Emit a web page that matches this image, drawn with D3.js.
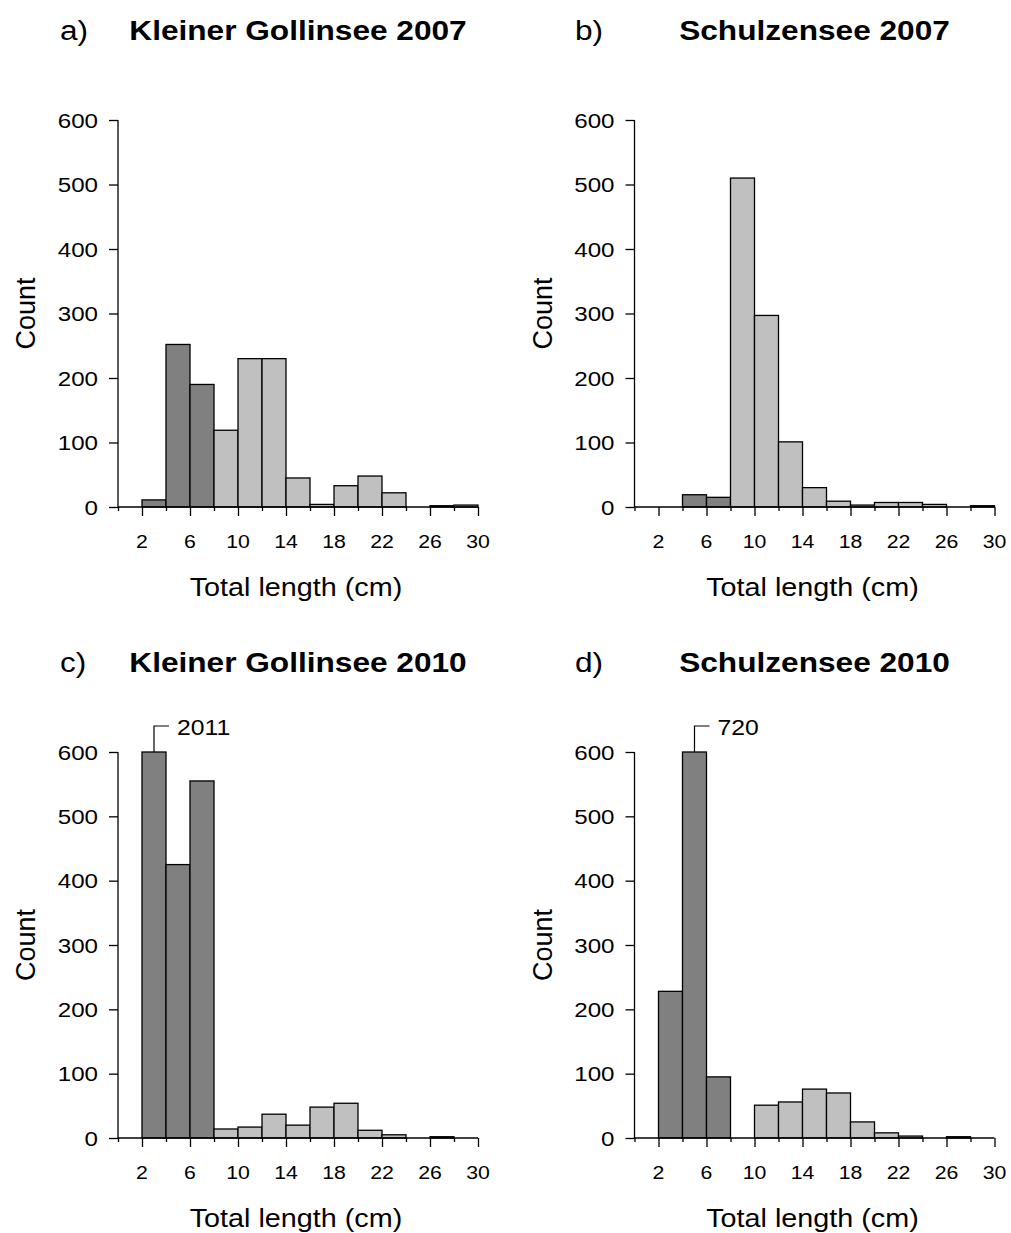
<!DOCTYPE html>
<html><head><meta charset="utf-8">
<script src="https://cdn.jsdelivr.net/npm/d3@7"></script>
<style>body{margin:0;background:#fff}svg{display:block}text{font-family:"Liberation Sans",Arial,sans-serif;fill:#000}</style>
</head><body>
<script>
// Length bins (lower edge, cm); each bin is 2 cm wide
const binStarts = [0, 2, 4, 6, 8, 10, 12, 14, 16, 18, 20, 22, 24, 26, 28];
const kleinerGollinsee2007 = [0, 11, 252, 190, 119, 230, 230, 45, 4, 33, 48, 22, 0, 2, 3];
const schulzensee2007      = [0, 0, 19, 15, 510, 297, 101, 30, 9, 3, 7, 7, 4, 0, 2];
const kleinerGollinsee2010 = [0, 2011, 425, 555, 14, 17, 37, 20, 48, 54, 12, 5, 0, 2, 0];
const schulzensee2010      = [0, 228, 720, 95, 0, 51, 56, 76, 70, 25, 8, 3, 0, 2, 0];
const youngOfYearMaxLength = 8; // bins below this length drawn dark
const xTickLabels = [2, 6, 10, 14, 18, 22, 26, 30];
const yTickLabels = [0, 100, 200, 300, 400, 500, 600];
const panelLetters = ["a)", "b)", "c)", "d)"];
const panelTitles = ["Kleiner Gollinsee 2007", "Schulzensee 2007", "Kleiner Gollinsee 2010", "Schulzensee 2010"];
const yMax = 600;
const xAxisTitle = "Total length (cm)";
const yAxisTitle = "Count";

const W = 1011, H = 1233, SX = 1.15;
const svg = d3.select("body").append("svg").attr("width", W).attr("height", H);

function stext(g, x, y, str, size, anchor, weight) {
  const t = g.append("g").attr("transform", `translate(${x},${y}) scale(${SX},1)`)
    .append("text").attr("x", 0).attr("y", 0).attr("font-size", size)
    .attr("text-anchor", anchor || "start").text(str);
  if (weight) t.attr("font-weight", weight);
  return t;
}

const series = [kleinerGollinsee2007, schulzensee2007, kleinerGollinsee2010, schulzensee2010];
const layout = [
  {x0: 118, yTop: 120, yBot: 507, lx: 60},
  {x0: 634.5, yTop: 120, yBot: 507, lx: 575},
  {x0: 118, yTop: 752, yBot: 1138, lx: 60},
  {x0: 634.5, yTop: 752, yBot: 1138, lx: 575}
];

series.forEach((vals, i) => {
  const L = layout[i];
  const g = svg.append("g");
  const x = d3.scaleLinear().domain([0, 30]).range([L.x0, L.x0 + 360]);
  const y = d3.scaleLinear().domain([0, yMax]).range([L.yBot, L.yTop]);
  const cx = (L.x0 + L.x0 + 360) / 2;

  // title
  stext(g, L.lx, L.yTop - 80, panelLetters[i], 27.5, "start");
  stext(g, cx, L.yTop - 80, panelTitles[i], 27.5, "middle", "bold");

  // bars
  const data = binStarts.map((b, k) => ({b, v: vals[k]}));
  g.selectAll("rect.bar").data(data.filter(d => d.v > 0)).join("rect")
    .attr("x", d => x(d.b)).attr("width", d => x(d.b + 2) - x(d.b))
    .attr("y", d => y(Math.min(d.v, yMax))).attr("height", d => y(0) - y(Math.min(d.v, yMax)))
    .attr("fill", d => d.b < youngOfYearMaxLength ? "#808080" : "#c0c0c0")
    .attr("stroke", "#000").attr("stroke-width", 1.3);

  // broken-bar annotations
  data.filter(d => d.v > yMax).forEach(d => {
    const bx = x(d.b + 1);
    g.append("path").attr("d", `M${bx},${y(yMax)}V${y(yMax) - 26}H${bx + 15}`)
      .attr("fill", "none").attr("stroke", "#000").attr("stroke-width", 1.2);
    stext(g, bx + 23, y(yMax) - 17, d.v, 21.5, "start");
  });

  // y axis
  const ya = g.append("g").attr("transform", `translate(${L.x0},0)`)
    .call(d3.axisLeft(y).tickValues(yTickLabels).tickSize(9).tickFormat(""));
  ya.select(".domain").attr("d", `M0,${y(yMax)}V${y(0)}`).attr("stroke-width", 1.3);
  ya.selectAll(".tick line").attr("stroke-width", 1.3);
  yTickLabels.forEach(v => stext(g, L.x0 - 20, y(v) + 7.5, v, 21, "end"));

  // x axis
  const allTicks = binStarts.concat([30]);
  const xa = g.append("g").attr("transform", `translate(0,${L.yBot})`)
    .call(d3.axisBottom(x).tickValues(allTicks).tickSize(4).tickFormat(""));
  xa.select(".domain").attr("d", `M${x(0)},0H${x(30)}`).attr("stroke-width", 1.3);
  xa.selectAll(".tick line").attr("stroke-width", 1.3)
    .attr("y2", d => xTickLabels.includes(d) ? 9 : 4);
  xTickLabels.forEach(v => stext(g, x(v), L.yBot + 41, v, 18.5, "middle"));

  // axis titles
  stext(g, cx - 2, L.yBot + 89, xAxisTitle, 25, "middle");
  g.append("text").attr("transform", `translate(${L.x0 - 83},${(L.yTop + L.yBot) / 2}) rotate(-90)`)
    .attr("text-anchor", "middle").attr("font-size", 27).text(yAxisTitle);
});
</script>
</body></html>
